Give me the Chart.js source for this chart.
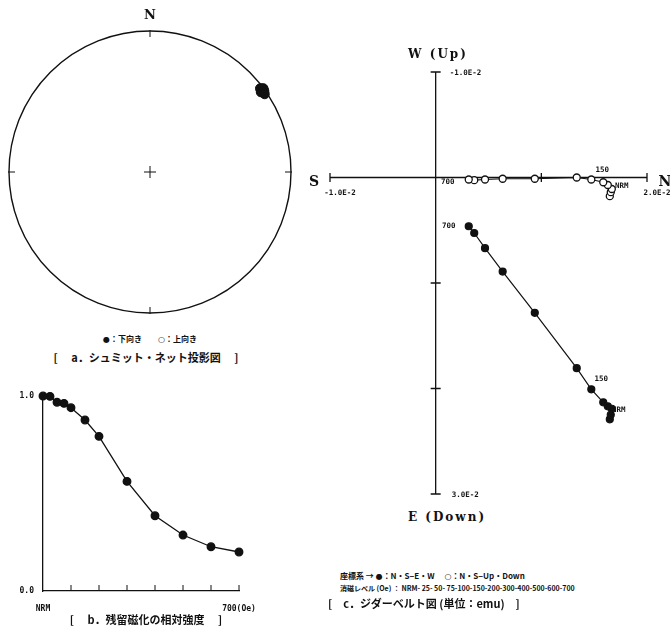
<!DOCTYPE html>
<html>
<head>
<meta charset="utf-8">
<script src="https://cdn.jsdelivr.net/npm/chart.js@4.4.1/dist/chart.umd.min.js"></script>
<style>
body { margin: 0; background: #fff; width: 670px; height: 633px; position: relative; overflow: hidden; }
canvas { position: absolute; }
.t { position: absolute; white-space: nowrap; color: #111; font-weight: bold; transform: translate(-50%, -50%); font-family: "Noto Sans CJK JP", sans-serif; }
.l { position: absolute; white-space: nowrap; color: #111; font-weight: bold; transform: translateY(-50%); font-family: "Noto Sans CJK JP", sans-serif; }
.ser { font-family: "DejaVu Serif", serif; }
.sym { font-family: "DejaVu Sans", sans-serif; font-weight: bold; }
</style>
</head>
<body>
<canvas id="netChart" width="300" height="330" style="left:0;top:0"></canvas>
<canvas id="intChart" width="300" height="253" style="left:0;top:380px"></canvas>
<canvas id="zijChart" width="370" height="470" style="left:300px;top:40px"></canvas>

<div class="t ser" style="left:150px;top:14px;font-size:13px">N</div>
<div class="t" style="left:150px;top:338px;font-size:8px"><span class="sym">●</span>：下向き　　<span class="sym">○</span>：上向き</div>
<div class="t" style="left:146px;top:357px;font-size:11px">[　 a．シュミット・ネット投影図　 ]</div>
<div class="t" style="left:146px;top:619px;font-size:11px">[　 b．残留磁化の相対強度　 ]</div>

<div class="t ser" style="left:438px;top:54px;font-size:12px;letter-spacing:2px">W (Up)</div>
<div class="t ser" style="left:447px;top:517px;font-size:12px;letter-spacing:2px">E (Down)</div>
<div class="t ser" style="left:314px;top:181px;font-size:14px">S</div>
<div class="t ser" style="left:665px;top:181px;font-size:14px">N</div>
<div class="l" style="left:340px;top:575px;font-size:8px">座標系 → <span class="sym">●</span>：N・S−E・W　 <span class="sym">○</span>：N・S−Up・Down</div>
<div class="l" style="left:340px;top:588px;font-size:7px">消磁レベル (Oe) ： NRM- 25- 50- 75-100-150-200-300-400-500-600-700</div>
<div class="l" style="left:328px;top:603px;font-size:11px">[　c．ジダーベルト図 (単位：emu)　]</div>

<script>
// demagnetising steps (Oe)
const steps = ['NRM', '25', '50', '75', '100', '150', '200', '300', '400', '500', '600', '700'];
const fields = [0, 25, 50, 75, 100, 150, 200, 300, 400, 500, 600, 700];
// relative intensity J/J0
const relInt = [1.0, 0.998, 0.968, 0.962, 0.94, 0.877, 0.793, 0.562, 0.386, 0.287, 0.227, 0.2];
// components, units of 1.0E-2 emu
const northComp = [1.648, 1.657, 1.667, 1.629, 1.586, 1.473, 1.335, 0.938, 0.634, 0.467, 0.365, 0.313];
const eastComp = [2.292, 2.249, 2.192, 2.169, 2.131, 2.008, 1.807, 1.283, 0.892, 0.670, 0.526, 0.462];
const downComp = [0.177, 0.139, 0.109, 0.071, 0.045, 0.019, 0.0, 0.012, 0.012, 0.019, 0.025, 0.019];
const zijTicks = [-1, 1, 2];
const zijVTicks = [-1, 1, 2, 3];

const ink = '#111';
Chart.defaults.color = ink;

// ---- a. Schmidt net (equal area) ----
const netPts = northComp.map((n, i) => {
    const e = eastComp[i], d = downComp[i];
    const dec = Math.atan2(e, n);
    const inc = Math.atan2(d, Math.hypot(n, e));
    const r = Math.SQRT2 * Math.sin((Math.PI / 2 - Math.abs(inc)) / 2);
    return { x: r * Math.sin(dec), y: r * Math.cos(dec), down: d >= 0 };
});

const netFrame = {
    id: 'netFrame',
    beforeDatasetsDraw(chart) {
        const { ctx, scales: { x, y } } = chart;
        const cx = x.getPixelForValue(0), cy = y.getPixelForValue(0);
        const r = x.getPixelForValue(1) - cx;
        ctx.save();
        ctx.strokeStyle = ink;
        ctx.lineWidth = 1.4;
        ctx.beginPath();
        ctx.arc(cx, cy, r, 0, Math.PI * 2);
        ctx.stroke();
        ctx.lineWidth = 1;
        ctx.beginPath();
        ctx.moveTo(cx, cy - r - 1); ctx.lineTo(cx, cy - r + 6);
        ctx.moveTo(cx, cy + r + 1); ctx.lineTo(cx, cy + r - 6);
        ctx.moveTo(cx - r - 1, cy); ctx.lineTo(cx - r + 6, cy);
        ctx.moveTo(cx + r + 1, cy); ctx.lineTo(cx + r - 6, cy);
        ctx.moveTo(cx - 6, cy); ctx.lineTo(cx + 6, cy);
        ctx.moveTo(cx, cy - 6); ctx.lineTo(cx, cy + 6);
        ctx.stroke();
        ctx.restore();
    }
};

new Chart(document.getElementById('netChart'), {
    type: 'scatter',
    data: {
        datasets: [{
            data: netPts,
            clip: false,
            pointRadius: 4.5,
            pointBackgroundColor: netPts.map(p => p.down ? ink : '#fff'),
            pointBorderColor: ink,
            pointBorderWidth: 1
        }]
    },
    options: {
        responsive: false,
        animation: false,
        layout: { padding: { left: 9, right: 9, top: 31, bottom: 17 } },
        scales: {
            x: { display: false, min: -1, max: 1 },
            y: { display: false, min: -1, max: 1 }
        },
        plugins: { legend: { display: false }, tooltip: { enabled: false } }
    },
    plugins: [netFrame]
});

// ---- b. relative intensity ----
const intAxes = {
    id: 'intAxes',
    afterDraw(chart) {
        const { ctx, scales: { x, y } } = chart;
        const y0 = y.getPixelForValue(0);
        ctx.save();
        ctx.strokeStyle = ink;
        ctx.lineWidth = 1;
        ctx.beginPath();
        x.ticks.forEach(t => {
            if (t.value === 0) return;
            const px = x.getPixelForValue(t.value);
            ctx.moveTo(px, y0);
            ctx.lineTo(px, y0 - 6);
        });
        ctx.stroke();
        ctx.fillStyle = ink;
        ctx.font = 'bold 8px "DejaVu Sans Mono"';
        ctx.textBaseline = 'middle';
        ctx.textAlign = 'right';
        ctx.fillText('1.0', x.left - 9, y.getPixelForValue(1));
        ctx.fillText('0.0', x.left - 9, y0);
        ctx.textAlign = 'center';
        ctx.fillText(steps[0], x.getPixelForValue(fields[0]), y0 + 18);
        ctx.fillText(steps[steps.length - 1] + '(Oe)', x.getPixelForValue(fields[fields.length - 1]), y0 + 18);
        ctx.restore();
    }
};

new Chart(document.getElementById('intChart'), {
    type: 'scatter',
    data: {
        datasets: [{
            data: fields.map((f, i) => ({ x: f, y: relInt[i] })),
            clip: false,
            showLine: true,
            borderColor: ink,
            borderWidth: 1.3,
            tension: 0,
            pointRadius: 3.8,
            pointBackgroundColor: ink,
            pointBorderColor: ink
        }]
    },
    options: {
        responsive: false,
        animation: false,
        layout: { padding: { left: 43, right: 61, top: 16, bottom: 42 } },
        scales: {
            x: {
                type: 'linear', min: 0, max: 700,
                ticks: { display: false, stepSize: 100 },
                grid: { drawOnChartArea: false, drawTicks: false },
                border: { color: ink, width: 1.3 }
            },
            y: {
                min: 0, max: 1,
                ticks: { display: false },
                grid: { drawOnChartArea: false, drawTicks: false },
                border: { color: ink, width: 1.3 }
            }
        },
        plugins: { legend: { display: false }, tooltip: { enabled: false } }
    },
    plugins: [intAxes]
});

// ---- c. Zijderveld diagram ----
const zijAxes = {
    id: 'zijAxes',
    beforeDatasetsDraw(chart) {
        const { ctx, scales: { x, y } } = chart;
        const ox = x.getPixelForValue(0), oy = y.getPixelForValue(0);
        ctx.save();
        ctx.strokeStyle = ink;
        ctx.lineWidth = 1.3;
        ctx.beginPath();
        ctx.moveTo(x.getPixelForValue(x.min), oy); ctx.lineTo(x.getPixelForValue(x.max), oy);
        ctx.moveTo(ox, y.getPixelForValue(y.min)); ctx.lineTo(ox, y.getPixelForValue(y.max));
        zijTicks.forEach(v => {
            const px = x.getPixelForValue(v);
            ctx.moveTo(px, oy - 4.5); ctx.lineTo(px, oy + 4.5);
        });
        zijVTicks.forEach(v => {
            const py = y.getPixelForValue(v);
            ctx.moveTo(ox - 5, py); ctx.lineTo(ox + 5, py);
        });
        ctx.stroke();
        ctx.fillStyle = ink;
        ctx.font = 'bold 7.5px "DejaVu Sans Mono"';
        ctx.textBaseline = 'middle';
        ctx.textAlign = 'center';
        ctx.fillText('-1.0E-2', x.getPixelForValue(x.min) + 10, oy + 16);
        ctx.fillText('2.0E-2', x.getPixelForValue(x.max) + 10, oy + 16);
        ctx.textAlign = 'left';
        ctx.fillText('-1.0E-2', ox + 14, y.getPixelForValue(y.min) + 1);
        ctx.fillText('3.0E-2', ox + 16, y.getPixelForValue(y.max) + 1);
        ctx.restore();
    },
    afterDatasetsDraw(chart) {
        const { ctx, scales: { x, y } } = chart;
        const last = steps.length - 1, i150 = steps.indexOf('150');
        const put = (txt, i, comp, dx, dy) => {
            ctx.fillText(txt, x.getPixelForValue(northComp[i]) + dx, y.getPixelForValue(comp[i]) + dy);
        };
        ctx.save();
        ctx.fillStyle = ink;
        ctx.font = 'bold 7.5px "DejaVu Sans Mono"';
        ctx.textBaseline = 'middle';
        ctx.textAlign = 'center';
        put(steps[last], last, downComp, -21, 3);
        put(steps[last], last, eastComp, -20, 0);
        put(steps[i150], i150, downComp, 11, -9);
        put(steps[i150], i150, eastComp, 10, -10);
        put(steps[0], 0, downComp, 12, -10);
        put(steps[0], 0, eastComp, 9, -9);
        ctx.restore();
    }
};

new Chart(document.getElementById('zijChart'), {
    type: 'scatter',
    data: {
        datasets: [
            {
                label: 'N-S / E-W',
                data: northComp.map((n, i) => ({ x: n, y: eastComp[i] })),
                clip: false,
                showLine: true,
                borderColor: ink,
                borderWidth: 1.2,
                pointRadius: 3.5,
                pointBackgroundColor: ink,
                pointBorderColor: ink
            },
            {
                label: 'N-S / Up-Down',
                data: northComp.map((n, i) => ({ x: n, y: downComp[i] })),
                clip: false,
                showLine: true,
                borderColor: ink,
                borderWidth: 1.2,
                pointRadius: 3.5,
                pointBackgroundColor: '#fff',
                pointBorderColor: ink,
                pointBorderWidth: 1.3
            }
        ]
    },
    options: {
        responsive: false,
        animation: false,
        layout: { padding: { left: 30, right: 23, top: 32, bottom: 16 } },
        scales: {
            x: { display: false, min: -1, max: 2 },
            y: { display: false, min: -1, max: 3, reverse: true }
        },
        plugins: { legend: { display: false }, tooltip: { enabled: false } }
    },
    plugins: [zijAxes]
});
</script>
</body>
</html>
